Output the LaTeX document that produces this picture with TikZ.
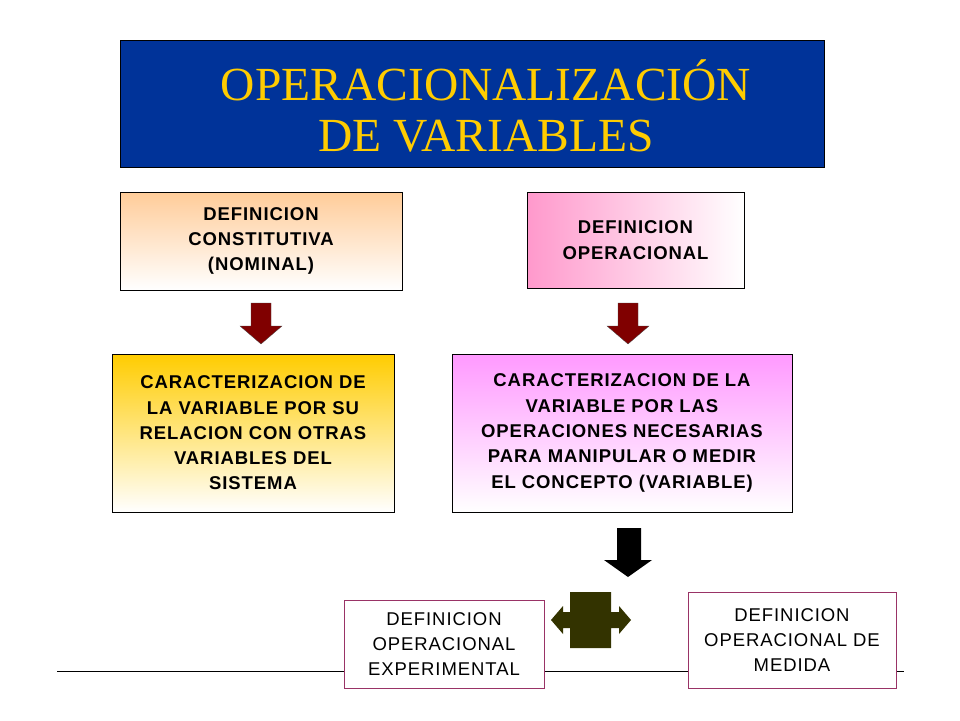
\documentclass[tikz,border=0pt]{standalone}
\usepackage{fontspec}
\setmainfont{Liberation Sans}
\newfontfamily\titlefont{Liberation Serif}
\newfontfamily\boxfont[LetterSpace=5]{Liberation Sans}
\definecolor{tblue}{RGB}{0,51,153}
\definecolor{tgold}{RGB}{255,204,0}
\definecolor{bpurple}{RGB}{153,51,102}
\definecolor{dred}{RGB}{128,0,0}
\definecolor{olive}{RGB}{51,51,0}
\definecolor{corange}{RGB}{255,204,153}
\definecolor{cpink}{RGB}{255,153,204}
\definecolor{cyellow}{RGB}{255,204,0}
\definecolor{cviolet}{RGB}{255,153,255}
\begin{document}
\begin{tikzpicture}[x=1pt,y=-1pt,
  bx/.style={draw=black,line width=0.6pt,align=center,inner sep=0pt,font=\boxfont\bfseries\fontsize{18.5}{25.3}\selectfont},
  wb/.style={draw=bpurple,line width=0.8pt,fill=white,align=center,inner sep=0pt,font=\boxfont\fontsize{18.5}{25}\selectfont},
  redarr/.style={fill=dred,draw=black!70,line width=0.3pt}]
\useasboundingbox (0,0) rectangle (960,720);
% title
\node[draw=black,line width=0.6pt,fill=tblue,minimum width=704pt,minimum height=127pt,inner sep=0pt] (title) at (472,103.5) {};
\node[text=tgold,font=\titlefont\fontsize{47.5}{51}\selectfont,align=center] (tt) at (486,106) {OPERACIONALIZACIÓN\\DE VARIABLES};
% line
\coordinate (la) at (57,671); \coordinate (lb) at (904,671);
\draw[line width=0.8pt] (la) -- (lb);
% boxes
\node[bx,minimum width=282pt,minimum height=98pt,top color=corange,bottom color=white] (b1) at (261,241) {DEFINICION\\CONSTITUTIVA\\(NOMINAL)};
\node[bx,minimum width=217pt,minimum height=96pt,shading angle=135,left color=cpink,right color=white] (b2) at (635.5,240) {DEFINICION\\OPERACIONAL};
\node[bx,minimum width=282pt,minimum height=158pt,top color=cyellow,bottom color=white] (b3) at (253,433) {CARACTERIZACION DE\\LA VARIABLE POR SU\\RELACION CON OTRAS\\VARIABLES DEL\\SISTEMA};
\node[bx,minimum width=340pt,minimum height=158pt,top color=cviolet,bottom color=white] (b4) at (622,433) {CARACTERIZACION DE LA\\VARIABLE POR LAS\\OPERACIONES NECESARIAS\\PARA MANIPULAR O MEDIR\\EL CONCEPTO (VARIABLE)};
% bottom boxes
\node[wb,minimum width=200pt,minimum height=88pt] (b5) at (444,644) {DEFINICION\\OPERACIONAL\\EXPERIMENTAL};
\node[wb,minimum width=208pt,minimum height=96pt] (b6) at (792,640) {DEFINICION\\OPERACIONAL DE\\MEDIDA};
% arrows
\draw[redarr] (251,303) -- (271,303) -- (271,326) -- (282,326) -- (261,344) -- (240,326) -- (251,326) -- cycle;
\draw[redarr] (618,303) -- (638,303) -- (638,326) -- (649,326) -- (628,344) -- (607,326) -- (618,326) -- cycle;
\fill[black] (617,528) -- (641,528) -- (641,560) -- (652,560) -- (628,577) -- (604,560) -- (617,560) -- cycle;
\fill[olive] (570,592) -- (611,592) -- (611,612) -- (619,612) -- (619,606) -- (631,620) -- (619,634) -- (619,628) -- (611,628) -- (611,648) -- (570,648) -- (570,628) -- (563,628) -- (563,634) -- (551,620) -- (563,606) -- (563,612) -- (570,612) -- cycle;
\end{tikzpicture}
\end{document}
